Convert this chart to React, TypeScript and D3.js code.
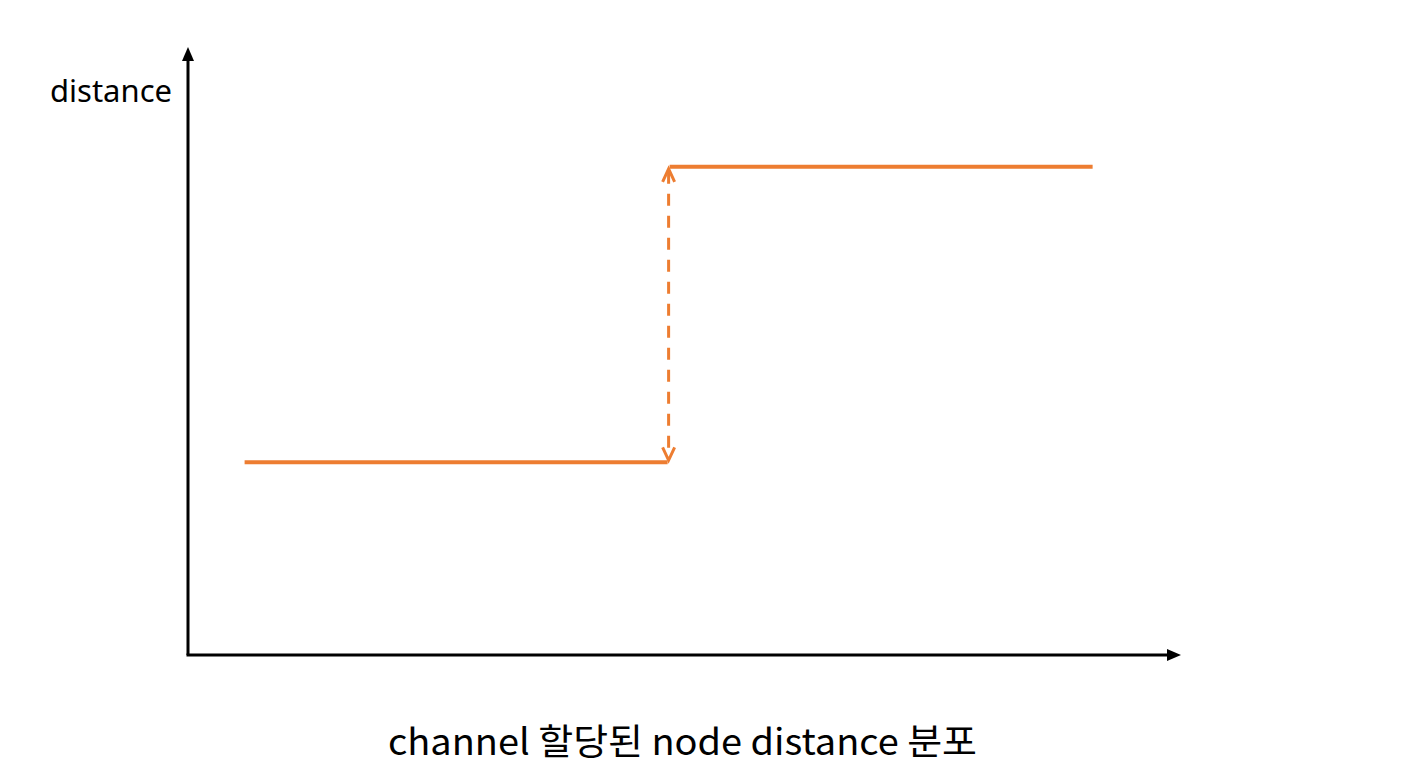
import React from 'react'
import * as d3 from 'd3'

// step levels (x start, x end, distance)
const segStart = [5.7, 48.5]
const segEnd = [48.3, 91.1]
const segLevel = [31.7, 80.3]
const jumpX = 48.4

const yLabel = 'distance'
const xTitle = 'channel 할당된 node distance 분포'

const ORANGE = '#ED7D31'

export default function App() {
  const width = 1404
  const height = 781
  const origin = { x: 188, y: 655 }
  const x = d3.scaleLinear().domain([0, 100]).range([origin.x, 1181])
  const y = d3.scaleLinear().domain([0, 100]).range([origin.y, 47])

  const line = d3.line<[number, number]>().x(d => x(d[0])).y(d => y(d[1]))

  const jx = x(jumpX)
  const yTop = y(segLevel[1]) + 2
  const yBot = y(segLevel[0]) - 2
  const chev = (tipY: number, dir: number) =>
    `M${jx - 6},${tipY + dir * 13} L${jx},${tipY} L${jx + 6},${tipY + dir * 13}`

  return (
    <svg width={width} height={height} style={{ position: 'absolute', left: 0, top: 0 }}>
      <rect width={width} height={height} fill="#fff" />
      {/* axes */}
      <line x1={origin.x} y1={origin.y} x2={origin.x} y2={y(100) + 12} stroke="#000" strokeWidth={3} />
      <path d={`M${origin.x},${y(100)} L${origin.x - 6},${y(100) + 14} L${origin.x + 6},${y(100) + 14} Z`} fill="#000" />
      <line x1={origin.x - 1.5} y1={origin.y} x2={x(100) - 12} y2={origin.y} stroke="#000" strokeWidth={3} />
      <path d={`M${x(100)},${origin.y} L${x(100) - 14},${origin.y - 6} L${x(100) - 14},${origin.y + 6} Z`} fill="#000" />

      {segLevel.map((v, i) => (
        <path key={i} d={line([[segStart[i], v], [segEnd[i], v]]) ?? ''} stroke={ORANGE} strokeWidth={4} fill="none" />
      ))}

      <line x1={jx} y1={yTop + 3} x2={jx} y2={yBot - 3} stroke={ORANGE} strokeWidth={3} strokeDasharray="12 10" />
      <path d={chev(yTop, 1)} stroke={ORANGE} strokeWidth={3} fill="none" />
      <path d={chev(yBot, -1)} stroke={ORANGE} strokeWidth={3} fill="none" />

      <text x={50} y={102} textLength={122} lengthAdjust="spacingAndGlyphs"
        fontFamily="'Noto Sans', 'Noto Sans CJK KR', sans-serif" fontSize={30} fill="#000">
        {yLabel}
      </text>
      <text x={388} y={755} textLength={589} lengthAdjust="spacingAndGlyphs"
        fontFamily="'Noto Sans CJK KR', 'Noto Sans', sans-serif" fontSize={36} fill="#000">
        {xTitle}
      </text>
    </svg>
  )
}
